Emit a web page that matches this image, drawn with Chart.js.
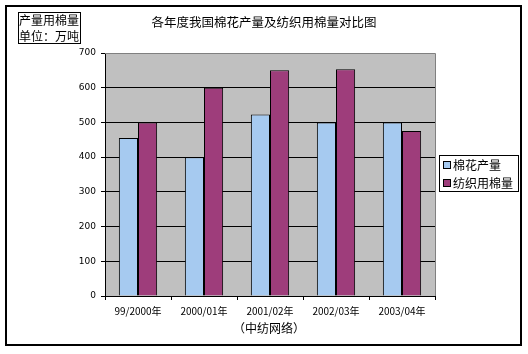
<!DOCTYPE html>
<html>
<head>
<meta charset="utf-8">
<script src="https://cdn.jsdelivr.net/npm/chart.js@4.4.1/dist/chart.umd.min.js"></script>
<style>
  html, body { margin: 0; padding: 0; background: #fff; }
  #wrap { width: 528px; height: 354px; }
</style>
</head>
<body>
<div id="wrap"><canvas id="barChart" width="528" height="354"></canvas></div>
<script>
// Chart data
const years = ['99/2000年', '2000/01年', '2001/02年', '2002/03年', '2003/04年'];
const seriesNames = ['棉花产量', '纺织用棉量'];
const cottonOutput = [455, 400, 523, 500, 500];
const textileUse = [500, 600, 650, 653, 475];
const yTicks = [0, 100, 200, 300, 400, 500, 600, 700];

const chartTitle = '各年度我国棉花产量及纺织用棉量对比图';
const unitLines = ['产量用棉量', '单位：万吨'];
const sourceNote = '（中纺网络）';

const colors = ['#a6caf0', '#9e3d7b'];
const cjk = '"Noto Sans CJK SC", "Noto Sans", sans-serif';

// Plugin for background, frame, title, unit box and legend
const decorations = {
  id: 'decorations',
  beforeDraw(chart) {
    const ctx = chart.ctx;
    const a = chart.chartArea;
    ctx.save();
    ctx.fillStyle = '#ffffff';
    ctx.fillRect(0, 0, chart.width, chart.height);
    ctx.fillStyle = '#c0c0c0';
    ctx.fillRect(a.left, a.top, a.right - a.left, a.bottom - a.top);
    ctx.restore();
  },
  afterDraw(chart) {
    const ctx = chart.ctx;
    const a = chart.chartArea;
    ctx.save();

    // grey top and right edges of plot area
    ctx.strokeStyle = '#808080';
    ctx.lineWidth = 1;
    ctx.beginPath();
    ctx.moveTo(a.left, a.top + 0.5);
    ctx.lineTo(a.right + 0.5, a.top + 0.5);
    ctx.lineTo(a.right + 0.5, a.bottom);
    ctx.stroke();

    // outer frame
    ctx.strokeStyle = '#000';
    ctx.lineWidth = 2;
    ctx.strokeRect(6, 6, 515, 339);

    // title
    ctx.fillStyle = '#000';
    ctx.textAlign = 'center';
    ctx.textBaseline = 'middle';
    ctx.font = '12.5px ' + cjk;
    ctx.fillText(chartTitle, 264, 22);

    // unit box
    ctx.lineWidth = 1;
    ctx.strokeRect(18.5, 12.5, 62, 31);
    ctx.font = '12px ' + cjk;
    ctx.textAlign = 'left';
    ctx.fillText(unitLines[0], 19, 20);
    ctx.fillText(unitLines[1], 19, 36);

    // source note under x axis
    ctx.textAlign = 'center';
    ctx.font = '12px "Noto Sans CJK SC", sans-serif';
    ctx.fillText(sourceNote, 269, 328);

    // legend
    ctx.strokeRect(439.5, 155.5, 79, 36);
    ctx.font = '12px ' + cjk;
    ctx.textAlign = 'left';
    seriesNames.forEach((name, i) => {
      const cy = 165 + i * 18;
      ctx.fillStyle = colors[i];
      ctx.fillRect(443, cy - 4, 7, 7);
      ctx.strokeStyle = '#000';
      ctx.strokeRect(443.5, cy - 3.5, 7, 7);
      ctx.fillStyle = '#000';
      ctx.fillText(name, 453, cy);
    });
    ctx.restore();
  }
};

const ctx = document.getElementById('barChart').getContext('2d');
new Chart(ctx, {
  type: 'bar',
  data: {
    labels: years,
    datasets: [
      {
        label: seriesNames[0],
        data: cottonOutput,
        backgroundColor: colors[0],
        borderColor: '#000',
        borderWidth: 1
      },
      {
        label: seriesNames[1],
        data: textileUse,
        backgroundColor: colors[1],
        borderColor: '#000',
        borderWidth: 1
      }
    ]
  },
  options: {
    responsive: false,
    animation: false,
    layout: { padding: { left: 60, top: 53, right: 93, bottom: 28 } },
    datasets: {
      bar: { categoryPercentage: 0.58, barPercentage: 1.0 }
    },
    plugins: {
      legend: { display: false },
      title: { display: false },
      tooltip: { enabled: false }
    },
    scales: {
      x: {
        grid: {
          offset: true,
          drawOnChartArea: false,
          drawTicks: true,
          tickLength: 4,
          color: '#000'
        },
        border: { color: '#000', width: 1 },
        ticks: {
          color: '#000',
          padding: 5,
          maxRotation: 0,
          font: { family: cjk, size: 10 }
        },
        afterFit(scale) { scale.height = 30; }
      },
      y: {
        min: 0,
        max: 700,
        afterBuildTicks(scale) {
          scale.ticks = yTicks.map(v => ({ value: v }));
        },
        grid: {
          color: '#000',
          lineWidth: 1,
          drawTicks: true,
          tickLength: 4
        },
        border: { color: '#000', width: 1 },
        ticks: {
          color: '#000',
          padding: 5,
          font: { family: '"DejaVu Sans", sans-serif', size: 9 }
        },
        afterFit(scale) { scale.width = 45; }
      }
    }
  },
  plugins: [decorations]
});
</script>
</body>
</html>
